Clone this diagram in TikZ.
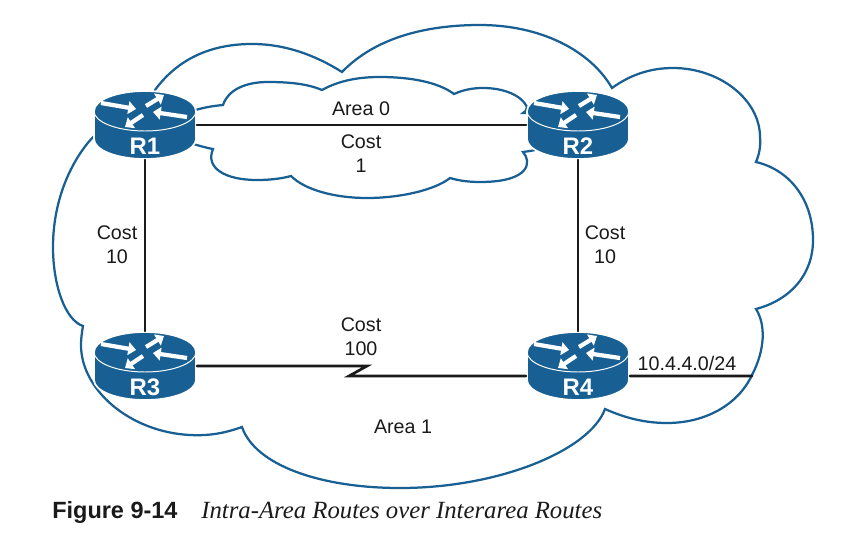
\documentclass[tikz,border=0pt]{standalone}
\usepackage{fontspec}
\setmainfont{Liberation Sans}
\newfontfamily\captionserif{Liberation Serif}
\usetikzlibrary{arrows.meta}

\definecolor{routerblue}{RGB}{24,95,147}
\definecolor{inkblack}{RGB}{26,26,26}

\tikzset{
    cloudline/.style={routerblue,line width=1.6pt,line join=miter},
    linkline/.style={inkblack,line width=1.9pt},
    routerbox/.style={minimum width=2.55cm,minimum height=1.7cm,inner sep=0pt,outer sep=0.6pt},
    routertext/.style={white,font=\fontsize{17}{17}\selectfont\bfseries,yshift=-0.52cm,inner sep=0pt},
    routerarrow/.style={white,line width=3pt,line cap=butt,-{Triangle[length=5.5pt,width=9pt]}},
    plainlabel/.style={inkblack,font=\fontsize{14}{17}\selectfont,align=center,inner sep=0pt}
}

\newcommand{\router}[2]{%
    \begin{scope}[shift={(#2)}]
        \fill[routerblue,draw=white,line width=1.2pt] (-51,-14) -- (-51,14) arc (180:0:51 and 20) -- (51,-14) arc (0:-180:51 and 20) -- cycle;
        \draw[white,line width=0.7pt] (-51,-14) arc (180:0:51 and 20);
        \foreach \xa/\ya/\xb/\yb in {-44/-22/-9/-16,1/-19/19/-30,42/-8/8/-13,-2/-10/-20/2}
            \draw[routerarrow] (\xa,\ya) -- (\xb,\yb);
    \end{scope}
    \node[routerbox,label={[routertext]center:#1}] (#1) at (#2) {};
}

\begin{document}
\begin{tikzpicture}[x=0.025cm,y=-0.025cm,line cap=round]
    \useasboundingbox (0,0) rectangle (842,533);

    % Area 1 outline
    \draw[cloudline] (155,90) .. controls (180,56) and (215,44) .. (252,44)
        .. controls (285,44) and (315,55) .. (342,72)
        .. controls (375,38) and (425,25) .. (480,25)
        .. controls (540,25) and (590,50) .. (612,88)
        .. controls (630,75) and (650,68) .. (673,68)
        .. controls (720,68) and (760,100) .. (760,137)
        .. controls (761,146) and (759,155) .. (756,162)
        .. controls (790,170) and (813,200) .. (813,240)
        .. controls (813,275) and (790,300) .. (756,309)
        .. controls (766,325) and (765,350) .. (752,375)
        .. controls (738,405) and (705,423) .. (667,423)
        .. controls (645,423) and (625,418) .. (605,409)
        .. controls (590,450) and (500,488) .. (400,488)
        .. controls (320,488) and (255,465) .. (242,427)
        .. controls (225,433) and (210,436) .. (190,435)
        .. controls (130,432) and (81,390) .. (81,345)
        .. controls (81,338) and (82,332) .. (83,326)
        .. controls (65,320) and (53,285) .. (53,247)
        .. controls (53,195) and (75,155) .. (95,135);

    % Area 0 outline
    \draw[cloudline] (190,112) .. controls (200,108) and (212,106) .. (223,105)
        .. controls (228,90) and (245,82) .. (268,82)
        .. controls (290,82) and (308,84) .. (322,90)
        .. controls (340,80) and (360,77) .. (380,77)
        .. controls (410,77) and (438,82) .. (454,94)
        .. controls (465,89) and (475,88) .. (483,88)
        .. controls (505,88) and (522,96) .. (527,107)
        .. controls (527,110) and (525,112) .. (523,113) -- (530,113);
    \draw[cloudline] (535,150) -- (530,151) -- (523,152)
        .. controls (532,162) and (530,182) .. (480,182)
        .. controls (470,182) and (460,181) .. (450,178)
        .. controls (435,190) and (400,198) .. (367,198)
        .. controls (335,198) and (305,190) .. (291,176)
        .. controls (280,179) and (268,180) .. (257,180)
        .. controls (225,180) and (205,168) .. (213,149)
        .. controls (207,148) and (200,146) .. (190,143);

    % Routers
    \router{R1}{145,125}
    \router{R2}{578,125}
    \router{R3}{145,366}
    \router{R4}{578,366}

    % Links
    \coordinate (serialA) at (367,366);
    \coordinate (serialB) at (349,376);
    \coordinate (stubend) at (752,376);
    \draw[linkline] (R1) -- (R2);
    \draw[linkline] (R1) -- (R3);
    \draw[linkline] (R2) -- (R4);
    \draw[linkline,line join=miter] (R3.east) -- (serialA) -- (serialB) -- ([yshift=-0.25cm]R4.west);
    \draw[linkline] ([yshift=-0.25cm]R4.east) -- (stubend);

    % Labels
    \node[plainlabel] (area0) at (361,109) {Area 0};
    \node[plainlabel] (cost12) at (361,154) {Cost\\1};
    \node[plainlabel] (cost13) at (117,245) {Cost\\10};
    \node[plainlabel] (cost24) at (605,245) {Cost\\10};
    \node[plainlabel] (cost34) at (361,337) {Cost\\100};
    \node[plainlabel] (network) at (687,363) {10.4.4.0/24};
    \node[plainlabel] (area1) at (403,427) {Area 1};

    % Caption
    \node[anchor=base west,inner sep=0pt,inkblack,font=\fontsize{16.7}{17}\selectfont\bfseries] (figno) at (52,518) {Figure 9-14};
    \node[anchor=base west,inner sep=0pt,inkblack,font=\fontsize{17.6}{17.6}\captionserif\itshape] (figtitle) at (201,518) {Intra-Area Routes over Interarea Routes};
\end{tikzpicture}
\end{document}
